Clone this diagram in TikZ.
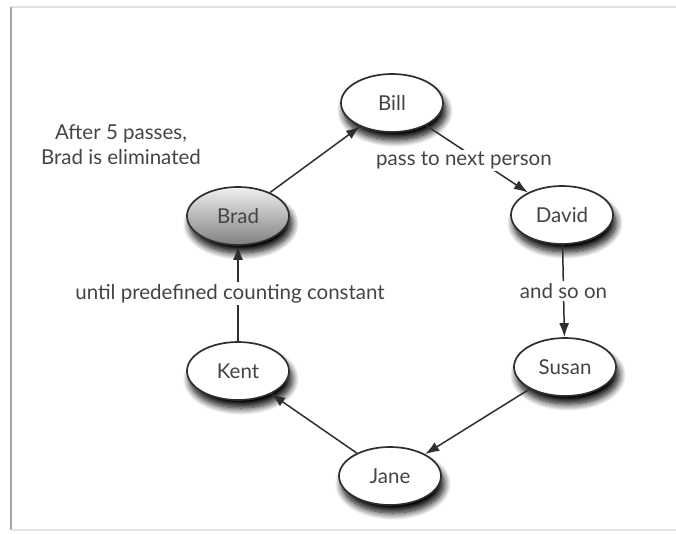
\documentclass[tikz,border=0pt]{standalone}
\usepackage{fontspec}
\setmainfont{Lato}
\usetikzlibrary{shapes.geometric,arrows.meta,shadows.blur}
\definecolor{txt}{HTML}{444444}
\definecolor{ink}{HTML}{2E2E2E}
\tikzset{
  person/.style={ellipse, draw=ink, line width=1.7pt, fill=white, inner sep=0pt,
    minimum width=102pt, minimum height=58pt, text=txt, font=\fontsize{20.5}{24}\selectfont,
    blur shadow={shadow xshift=3pt, shadow yshift=-8pt, shadow blur steps=12, shadow opacity=100, shadow blur radius=7pt}},
  link/.style={draw=ink, line width=1.5pt, -{Latex[length=14pt,width=10pt]}},
  lbl/.style={fill=white, text=txt, font=\fontsize{20.5}{24}\selectfont, inner sep=2pt},
}
\begin{document}
\begin{tikzpicture}[x=1pt,y=-1pt]
\useasboundingbox (0,0) rectangle (676,533);
% frame
\draw[draw=black!12, line width=2pt] (11,7) -- (676,7);
\draw[draw=black!35, line width=2pt] (11,7) -- (11,530);
\draw[draw=black!10, line width=2pt] (11,530) -- (676,530);
% nodes
\node[person] (bill) at (392,103) {Bill};
\node[person, shading angle=-30, top color=black!6, bottom color=black!50] (brad) at (238,216) {Brad};
\node[person] (david) at (562,215) {David};
\node[person] (susan) at (565,367) {Susan};
\node[person] (jane) at (390,476) {Jane};
\node[person] (kent) at (238,371) {Kent};
\node[text=txt, font=\fontsize{20.5}{25}\selectfont, align=center] (note) at (121,145) {After 5 passes,\\Brad is eliminated};
% connectors
\draw[link] (brad) -- (bill);
\draw[link] (bill) -- node[lbl, pos=0.45, xshift=-8pt, yshift=-5pt] (l1) {pass to next person} (david);
\draw[link] (david) -- node[lbl] (l2) {and so on} (susan);
\draw[link] (susan) -- (jane);
\draw[link] (jane) -- (kent);
\draw[link] (kent) -- node[lbl, xshift=-8pt] (l3) {until predefined counting constant} (brad);
\end{tikzpicture}
\end{document}
